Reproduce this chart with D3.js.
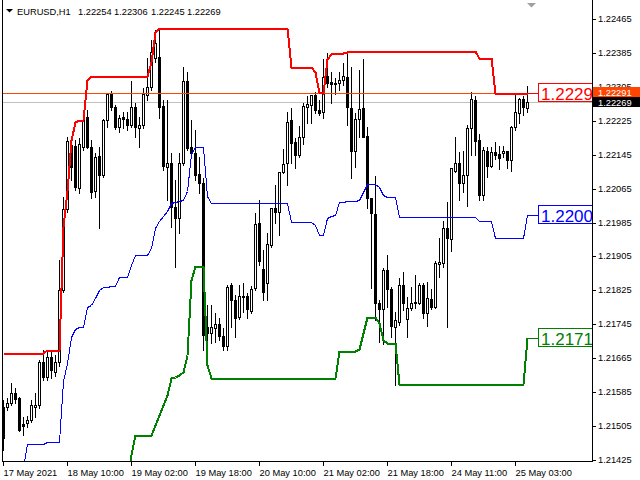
<!DOCTYPE html>
<html>
<head>
<meta charset="utf-8">
<script src="https://cdn.jsdelivr.net/npm/d3@7"></script>
<style>
body { margin: 0; background: #fff; }
svg { display: block; }
</style>
</head>
<body>
<svg id="chart" width="640" height="480"></svg>
<script>
// symbol and time axis
var symbol = "EURUSD,H1";
var xTickBars = [0, 16, 32, 48, 64, 80, 96, 112, 128];
var xTickLabels = ["17 May 2021", "18 May 10:00", "19 May 02:00", "19 May 18:00", "20 May 10:00",
                   "21 May 02:00", "21 May 18:00", "24 May 11:00", "25 May 03:00"];
var yTicks = [1.22465, 1.22385, 1.22305, 1.22225, 1.22145, 1.22065, 1.21985,
              1.21905, 1.21825, 1.21745, 1.21665, 1.21585, 1.21505, 1.21425];

// H1 candles, one entry per bar
var opens = [1.21550,1.21550,1.21560,1.21583,1.21572,1.21510,1.21513,1.21520,1.21550,1.21555,
 1.21656,1.21621,1.21668,1.21633,1.21656,1.21826,1.22017,1.22168,1.22166,1.22067,
 1.22163,1.22234,1.22163,1.22060,1.22142,1.22097,1.22227,1.22291,1.22258,1.22211,
 1.22234,1.22229,1.22215,1.22258,1.22208,1.22215,1.22286,1.22305,1.22373,1.22376,
 1.22260,1.22116,1.22126,1.22022,1.21996,1.22126,1.22319,1.22163,1.22149,1.22100,
 1.22078,1.21739,1.21725,1.21737,1.21746,1.21718,1.21694,1.21838,1.21803,1.21763,
 1.21810,1.21812,1.21777,1.21831,1.21984,1.21876,1.21843,1.21932,1.22020,1.22010,
 1.22104,1.22126,1.22227,1.22175,1.22145,1.22187,1.22258,1.22262,1.22286,1.22251,
 1.22246,1.22331,1.22317,1.22314,1.22314,1.22321,1.22328,1.22255,1.22154,1.22229,
 1.22255,1.22189,1.22043,1.22005,1.21796,1.21781,1.21873,1.21829,1.21739,1.21751,
 1.21838,1.21758,1.21784,1.21798,1.21796,1.21838,1.21772,1.21805,1.21786,1.21887,
 1.21890,1.21972,1.21946,1.22107,1.22126,1.22078,1.22097,1.22208,1.22274,1.22180,
 1.22050,1.22154,1.22119,1.22152,1.22147,1.22149,1.22154,1.22133,1.22211,1.22244,
 1.22277,1.22254];
var highs = [1.21567,1.21572,1.21607,1.21595,1.21574,1.21527,1.21529,1.21567,1.21583,1.21661,
 1.21685,1.21685,1.21685,1.21673,1.21897,1.22045,1.22187,1.22180,1.22180,1.22185,
 1.22251,1.22251,1.22180,1.22149,1.22163,1.22229,1.22291,1.22295,1.22262,1.22239,
 1.22246,1.22246,1.22319,1.22267,1.22234,1.22302,1.22373,1.22416,1.22439,1.22444,
 1.22274,1.22274,1.22149,1.22086,1.22149,1.22352,1.22340,1.22227,1.22203,1.22140,
 1.22090,1.21791,1.21791,1.21772,1.21760,1.21737,1.21838,1.21843,1.21814,1.21838,
 1.21843,1.21819,1.21836,1.22008,1.22038,1.21921,1.21961,1.22020,1.22074,1.22104,
 1.22159,1.22246,1.22255,1.22185,1.22213,1.22267,1.22284,1.22286,1.22293,1.22274,
 1.22371,1.22385,1.22340,1.22326,1.22340,1.22361,1.22387,1.22352,1.22244,1.22345,
 1.22371,1.22211,1.22043,1.22095,1.21803,1.21878,1.21909,1.21833,1.21774,1.21854,
 1.21869,1.21810,1.21833,1.21862,1.21843,1.21843,1.21845,1.21829,1.21895,1.21949,
 1.21989,1.22034,1.22114,1.22187,1.22152,1.22154,1.22215,1.22293,1.22284,1.22194,
 1.22163,1.22163,1.22163,1.22175,1.22166,1.22166,1.22154,1.22213,1.22291,1.22279,
 1.22284,1.22306];
var lows = [1.21449,1.21543,1.21555,1.21560,1.21494,1.21484,1.21503,1.21515,1.21527,1.21548,
 1.21614,1.21614,1.21619,1.21623,1.21647,1.21821,1.22010,1.22086,1.22062,1.22055,
 1.22156,1.22161,1.22043,1.22045,1.21972,1.22093,1.22211,1.22251,1.22206,1.22199,
 1.22208,1.22203,1.22211,1.22187,1.22163,1.22208,1.22274,1.22298,1.22364,1.22232,
 1.22109,1.22038,1.21975,1.21880,1.21961,1.22121,1.22156,1.22140,1.22086,1.22055,
 1.21685,1.21685,1.21701,1.21704,1.21708,1.21685,1.21685,1.21739,1.21715,1.21758,
 1.21774,1.21760,1.21772,1.21826,1.21885,1.21803,1.21803,1.21928,1.21984,1.21956,
 1.22102,1.22074,1.22126,1.22114,1.22140,1.22170,1.22220,1.22220,1.22244,1.22239,
 1.22232,1.22305,1.22267,1.22288,1.22298,1.22310,1.22215,1.22090,1.22116,1.22187,
 1.22187,1.22020,1.21831,1.21755,1.21704,1.21699,1.21786,1.21715,1.21602,1.21744,
 1.21779,1.21715,1.21779,1.21784,1.21793,1.21760,1.21741,1.21781,1.21784,1.21857,
 1.21880,1.21739,1.21918,1.22104,1.22038,1.22057,1.22024,1.22145,1.22145,1.22038,
 1.22038,1.22093,1.22116,1.22135,1.22112,1.22140,1.22114,1.22107,1.22203,1.22220,
 1.22239,1.22245];
var closes = [1.21477,1.21560,1.21583,1.21569,1.21496,1.21505,1.21520,1.21555,1.21555,1.21656,
 1.21621,1.21668,1.21638,1.21656,1.21826,1.22017,1.22178,1.22116,1.22069,1.22170,
 1.22227,1.22163,1.22057,1.22140,1.22097,1.22227,1.22288,1.22258,1.22211,1.22232,
 1.22229,1.22215,1.22258,1.22211,1.22215,1.22288,1.22305,1.22387,1.22409,1.22258,
 1.22119,1.22126,1.22022,1.21996,1.22126,1.22319,1.22161,1.22149,1.22097,1.22078,
 1.21720,1.21725,1.21739,1.21746,1.21718,1.21694,1.21833,1.21803,1.21760,1.21812,
 1.21812,1.21781,1.21829,1.21982,1.21895,1.21821,1.21935,1.22020,1.22010,1.22104,
 1.22123,1.22222,1.22173,1.22145,1.22187,1.22260,1.22265,1.22286,1.22251,1.22244,
 1.22328,1.22314,1.22312,1.22312,1.22321,1.22331,1.22258,1.22154,1.22229,1.22253,
 1.22187,1.22043,1.22008,1.21796,1.21781,1.21873,1.21829,1.21741,1.21755,1.21838,
 1.21796,1.21784,1.21796,1.21796,1.21838,1.21772,1.21807,1.21786,1.21890,1.21892,
 1.21972,1.21949,1.22114,1.22126,1.22078,1.22097,1.22208,1.22277,1.22178,1.22050,
 1.22156,1.22119,1.22152,1.22145,1.22137,1.22154,1.22133,1.22211,1.22246,1.22277,
 1.22258,1.22269];

// price channel: upper, middle, lower
var upper = [1.21678,1.21678,1.21678,1.21678,1.21678,1.21678,1.21678,1.21678,1.21678,1.21678,
 1.21678,1.21685,1.21685,1.21685,1.21685,1.21975,1.22060,1.22180,1.22222,1.22227,
 1.22227,1.22321,1.22331,1.22331,1.22331,1.22331,1.22331,1.22331,1.22331,1.22331,
 1.22331,1.22331,1.22331,1.22331,1.22331,1.22331,1.22331,1.22364,1.22435,1.22444,
 1.22444,1.22444,1.22444,1.22444,1.22444,1.22444,1.22444,1.22444,1.22444,1.22444,
 1.22444,1.22444,1.22444,1.22444,1.22444,1.22444,1.22444,1.22444,1.22444,1.22444,
 1.22444,1.22444,1.22444,1.22444,1.22444,1.22444,1.22444,1.22444,1.22444,1.22444,
 1.22444,1.22444,1.22352,1.22352,1.22352,1.22352,1.22352,1.22352,1.22340,1.22293,
 1.22291,1.22371,1.22383,1.22385,1.22385,1.22385,1.22387,1.22390,1.22390,1.22390,
 1.22390,1.22390,1.22390,1.22390,1.22390,1.22390,1.22390,1.22390,1.22390,1.22390,
 1.22390,1.22390,1.22390,1.22390,1.22390,1.22390,1.22390,1.22390,1.22390,1.22390,
 1.22390,1.22390,1.22390,1.22390,1.22390,1.22390,1.22390,1.22390,1.22390,1.22373,
 1.22373,1.22373,1.22373,1.22291,1.22291,1.22291,1.22291,1.22291,1.22291,1.22291,
 1.22291,1.22291];
var middle = [1.21407,1.21407,1.21407,1.21407,1.21407,1.21407,1.21463,1.21463,1.21463,1.21463,
 1.21463,1.21467,1.21467,1.21467,1.21467,1.21612,1.21654,1.21714,1.21735,1.21738,
 1.21738,1.21785,1.21790,1.21808,1.21827,1.21834,1.21834,1.21836,1.21836,1.21857,
 1.21857,1.21857,1.21884,1.21908,1.21908,1.21908,1.21908,1.21924,1.21972,1.21988,
 1.22000,1.22012,1.22032,1.22033,1.22035,1.22039,1.22059,1.22147,1.22164,1.22164,
 1.22164,1.22047,1.22032,1.22032,1.22032,1.22032,1.22032,1.22032,1.22032,1.22032,
 1.22032,1.22032,1.22032,1.22032,1.22032,1.22032,1.22032,1.22032,1.22032,1.22032,
 1.22032,1.22032,1.21986,1.21986,1.21986,1.21986,1.21986,1.21986,1.21980,1.21956,
 1.21955,1.21995,1.22001,1.22002,1.22034,1.22034,1.22035,1.22036,1.22036,1.22039,
 1.22058,1.22077,1.22077,1.22077,1.22069,1.22049,1.22046,1.22046,1.22046,1.21998,
 1.21998,1.21998,1.21998,1.21998,1.21998,1.21998,1.21998,1.21998,1.21998,1.21998,
 1.21998,1.21998,1.21998,1.21998,1.21998,1.21998,1.21998,1.21998,1.21998,1.21989,
 1.21989,1.21989,1.21989,1.21948,1.21948,1.21948,1.21948,1.21948,1.21948,1.21948,
 1.21948,1.22002];
var lower = [1.21135,1.21135,1.21135,1.21135,1.21135,1.21135,1.21248,1.21248,1.21248,1.21248,
 1.21248,1.21248,1.21248,1.21248,1.21248,1.21248,1.21248,1.21248,1.21248,1.21248,
 1.21248,1.21248,1.21248,1.21284,1.21322,1.21336,1.21336,1.21340,1.21340,1.21383,
 1.21383,1.21383,1.21437,1.21484,1.21484,1.21484,1.21484,1.21484,1.21508,1.21531,
 1.21555,1.21579,1.21619,1.21621,1.21626,1.21633,1.21673,1.21850,1.21883,1.21883,
 1.21883,1.21649,1.21619,1.21619,1.21619,1.21619,1.21619,1.21619,1.21619,1.21619,
 1.21619,1.21619,1.21619,1.21619,1.21619,1.21619,1.21619,1.21619,1.21619,1.21619,
 1.21619,1.21619,1.21619,1.21619,1.21619,1.21619,1.21619,1.21619,1.21619,1.21619,
 1.21619,1.21619,1.21619,1.21619,1.21682,1.21682,1.21682,1.21682,1.21682,1.21687,
 1.21725,1.21763,1.21763,1.21763,1.21748,1.21708,1.21701,1.21701,1.21701,1.21605,
 1.21605,1.21605,1.21605,1.21605,1.21605,1.21605,1.21605,1.21605,1.21605,1.21605,
 1.21605,1.21605,1.21605,1.21605,1.21605,1.21605,1.21605,1.21605,1.21605,1.21605,
 1.21605,1.21605,1.21605,1.21605,1.21605,1.21605,1.21605,1.21605,1.21605,1.21605,
 1.21605,1.21713];

var levelLine = 1.22291;   // orange horizontal line
var bidPrice = 1.22269;    // last close, grey line

var font = '"Liberation Sans", Arial, sans-serif';
var n = closes.length;
var bars = d3.range(n).map(function(i) {
    return {i: i, o: opens[i], h: highs[i], l: lows[i], c: closes[i]};
});

// plot box: left border at 2, axis at 592, bottom at 461
var plotLeft = 2, plotRight = 592, plotBottom = 461;

var x = d3.scaleLinear().domain([0, n - 1]).range([3, 527]);
var y = d3.scaleLinear()
    .domain([1.21425, 1.22465])
    .range([460, 19])
    .interpolate(d3.interpolateRound);

var svg = d3.select("#chart");
svg.append("rect").attr("width", 640).attr("height", 480).attr("fill", "#fff");

svg.append("defs").append("clipPath").attr("id", "plotClip")
    .append("rect").attr("x", plotLeft + 1).attr("y", 0)
    .attr("width", plotRight - plotLeft - 1).attr("height", plotBottom);

var plot = svg.append("g").attr("clip-path", "url(#plotClip)");

// bid line behind the candles
plot.append("line")
    .attr("x1", plotLeft).attr("x2", plotRight)
    .attr("y1", y(bidPrice) + 0.5).attr("y2", y(bidPrice) + 0.5)
    .attr("stroke", "#c0c0c0").attr("shape-rendering", "crispEdges");

// candles
var candle = plot.append("g").attr("shape-rendering", "crispEdges");
candle.selectAll("line.wick")
    .data(bars)
    .enter().append("line")
    .attr("class", "wick")
    .attr("x1", function(d) { return x(d.i) + 0.5; })
    .attr("x2", function(d) { return x(d.i) + 0.5; })
    .attr("y1", function(d) { return y(d.h); })
    .attr("y2", function(d) { return y(d.l) + 1; })
    .attr("stroke", "#000");

candle.selectAll("path.body")
    .data(bars)
    .enter().append("path")
    .attr("class", "body")
    .attr("d", function(d) {
        var t = y(Math.max(d.o, d.c)), b = y(Math.min(d.o, d.c)), cx = x(d.i);
        return "M" + (cx - 0.5) + "," + (t + 0.5) + "H" + (cx + 1.5) + "V" + (b + 0.5) +
               "H" + (cx - 0.5) + "Z";
    })
    .attr("fill", function(d) { return d.c >= d.o ? "#fff" : "#000"; })
    .attr("stroke", "#000");

// orange level line
plot.append("line")
    .attr("x1", plotLeft).attr("x2", plotRight)
    .attr("y1", y(levelLine) + 0.5).attr("y2", y(levelLine) + 0.5)
    .attr("stroke", "#ff4500").attr("shape-rendering", "crispEdges");

// channel lines
var channels = [
    {values: upper, color: "#ff0000", width: 2},
    {values: middle, color: "#0000ff", width: 1},
    {values: lower, color: "#008000", width: 2}
];
var line = d3.line()
    .x(function(d, i) { return x(i) + 0.5; })
    .y(function(d) { return y(d) + 0.5; });

channels.forEach(function(ch) {
    plot.append("path")
        .datum(ch.values)
        .attr("d", line)
        .attr("fill", "none")
        .attr("stroke", ch.color)
        .attr("stroke-width", ch.width)
        .attr("shape-rendering", "crispEdges");
});

// value labels at the right end of each channel line
var boxX = 538;
channels.forEach(function(ch) {
    var v = ch.values[n - 1], yc = y(v);
    plot.append("line")
        .attr("x1", x(n - 1) + 0.5).attr("x2", boxX)
        .attr("y1", yc + 0.5).attr("y2", yc + 0.5)
        .attr("stroke", ch.color).attr("shape-rendering", "crispEdges");
    plot.append("rect")
        .attr("x", boxX + 0.5).attr("y", yc - 9.5)
        .attr("width", 70).attr("height", 18)
        .attr("fill", "#fff").attr("stroke", ch.color)
        .attr("shape-rendering", "crispEdges");
    plot.append("text")
        .attr("x", boxX + 3).attr("y", yc + 6.5)
        .attr("fill", ch.color)
        .style("font-family", font).style("font-size", "17px")
        .text(d3.format(".5f")(v));
});

// chart shift marker
svg.append("polygon")
    .attr("points", "527,3 536,3 531.5,7.5")
    .attr("fill", "#a0a0a0");

// frame
svg.append("path")
    .attr("d", "M" + (plotLeft + 0.5) + ",0V" + (plotBottom + 0.5) + "H" + (plotRight + 0.5) + "V0")
    .attr("fill", "none").attr("stroke", "#000")
    .attr("shape-rendering", "crispEdges");

// price axis
var yAxis = d3.axisRight(y)
    .tickValues(yTicks)
    .tickFormat(d3.format(".5f"))
    .tickSize(4)
    .tickPadding(2);
var yg = svg.append("g")
    .attr("transform", "translate(" + plotRight + ",0)")
    .call(yAxis);
yg.select(".domain").remove();
yg.selectAll("text").style("font-family", font).style("font-size", "9.3px").attr("fill", "#000");
yg.selectAll("line").attr("stroke", "#000");

// time axis
var xAxis = d3.axisBottom(x)
    .tickValues(xTickBars)
    .tickFormat(function(d, i) { return xTickLabels[i]; })
    .tickSize(4)
    .tickPadding(3);
var xg = svg.append("g")
    .attr("transform", "translate(0," + (plotBottom + 1) + ")")
    .call(xAxis);
xg.select(".domain").remove();
xg.selectAll("text")
    .attr("text-anchor", "start")
    .style("font-family", font).style("font-size", "9.3px").attr("fill", "#000");
xg.selectAll("line").attr("stroke", "#000");

// price tags on the axis (bid in black, level in orange above it)
var bidY = y(bidPrice);
var tags = [
    {v: bidPrice, top: bidY - 5, bg: "#000"},
    {v: levelLine, top: Math.min(y(levelLine) - 5, bidY - 5 - 10), bg: "#ff4500"}
];
tags.forEach(function(t) {
    svg.append("rect")
        .attr("x", plotRight + 1).attr("y", t.top)
        .attr("width", 640 - plotRight - 1).attr("height", 10)
        .attr("fill", t.bg);
    svg.append("text")
        .attr("x", plotRight + 6).attr("y", t.top + 8.5)
        .attr("fill", "#fff")
        .style("font-family", font).style("font-size", "9.3px")
        .text(d3.format(".5f")(t.v));
});

// header: symbol and last bar OHLC
var last = bars[n - 1];
svg.append("polygon").attr("points", "6,9 13,9 9.5,12.5").attr("fill", "#000");
var header = [symbol].concat([last.o, last.h, last.l, last.c].map(d3.format(".5f")));
var headerX = [17, 78, 114, 151, 187];
svg.selectAll("text.header")
    .data(header)
    .enter().append("text")
    .attr("class", "header")
    .attr("x", function(d, i) { return headerX[i]; })
    .attr("y", 15)
    .style("font-family", font).style("font-size", "9.3px")
    .text(function(d) { return d; });
</script>
</body>
</html>
